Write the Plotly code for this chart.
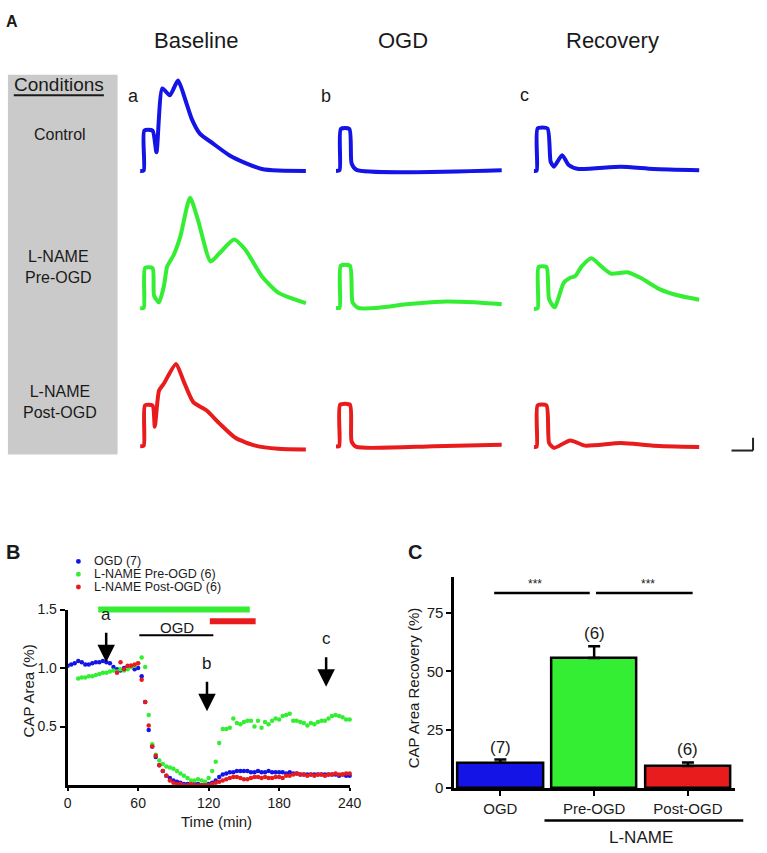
import plotly.graph_objects as go

W, H = 767, 853
FONT = "Liberation Sans, Arial, sans-serif"
INK = "#1a1a1a"
BLUE, GREEN, RED = "#1414e6", "#33ee33", "#e81c1c"

# ---------------- data ----------------
# A: representative CAP recordings (time and amplitude in arbitrary units)
ctrl_base_t = [0, 3.7, 4.3, 12.7, 16.7, 22.7, 30.3, 38.7, 46, 52.7, 61, 74.3, 91, 107.7, 124.3, 141, 169.3]
ctrl_base_v = [0, 0.5, 41, 41, 19, 84, 77, 92, 73, 53, 38, 28, 16, 8, 2, 0.3, 0]
ctrl_ogd_t = [0, 3.7, 5, 13.7, 16, 21, 169.3]
ctrl_ogd_v = [0, 0.7, 42.7, 42.7, 7.7, 1, 0.7]
ctrl_rec_t = [0, 3, 4, 14, 17.3, 20.7, 29, 35.7, 45.7, 89, 122.3, 169]
ctrl_rec_v = [0, 0.3, 43.3, 43.3, 9.3, 4.3, 16, 6, 2, 4.3, 2, 0.7]

pre_base_t = [0, 3.7, 5, 12.7, 14.3, 19.3, 24.3, 27.7, 34.3, 41, 51, 59.3, 72, 81, 96, 107.7, 124.3, 141, 169.3]
pre_base_v = [0, 0.3, 41, 41, 12.7, 6, 22.7, 42.7, 54.3, 72.7, 112.7, 89.3, 47.7, 56, 70, 59.3, 32.7, 16, 5.3]
pre_ogd_t = [0, 3.7, 5, 14.3, 17, 22.7, 41, 74.3, 107.7, 141, 169.3]
pre_ogd_v = [0.3, 0.5, 43.3, 43.3, 6, 0.3, 0.3, 4.3, 6.7, 6, 4]
pre_rec_t = [0, 4, 5, 13, 15.7, 21.3, 30.7, 37.3, 42.3, 49, 59, 69, 79, 95.7, 109, 129, 149, 169]
pre_rec_v = [-0.7, 0, 42, 42, 9.3, 1, 26, 31, 32.7, 42.7, 51, 42.7, 35.3, 36.7, 31, 19.3, 12.7, 8.7]

post_base_t = [0, 3.7, 5, 12.7, 15, 19.3, 24.3, 36.7, 44.3, 54.3, 67.7, 81, 97.7, 117.7, 141, 169.3]
post_base_v = [1.3, 2, 43, 43, 21.3, 58, 65.3, 85.3, 68, 46.3, 38, 24.7, 9.7, 2, -1.3, -2]
post_ogd_t = [0, 3.3, 4.3, 14.3, 16, 21, 100, 169.3]
post_ogd_v = [1.3, 1.5, 43.7, 43.7, 6.3, 0.7, 1.5, 3]
post_rec_t = [0, 3, 4, 13, 15.7, 20.7, 37.3, 52.3, 89, 122.3, 169]
post_rec_v = [0.7, 1, 43, 43, 4.7, -0.3, 7.3, 2, 4.7, 2, 0.7]

# B: CAP area time course (min, fraction of baseline)
ogd_time = list(range(0, 241, 3))
ogd_area = [1.02, 1.03, 1.04, 1.06, 1.05, 1.03, 1.03, 1.04, 1.05, 1.05, 1.06, 1.05, 1.04, 1.01,
            0.99, 0.98, 1.00, 1.01, 1.02, 0.99, 1.00, 0.93, 0.71, 0.47, 0.33, 0.24, 0.17, 0.12,
            0.08, 0.06, 0.04, 0.03, 0.02, 0.01, 0.01, 0.00, 0.01, 0.01, 0.00, 0.01, 0.01, 0.02,
            0.04, 0.07, 0.09, 0.10, 0.11, 0.11, 0.12, 0.12, 0.12, 0.12, 0.11, 0.11, 0.12, 0.11,
            0.11, 0.12, 0.11, 0.11, 0.11, 0.11, 0.10, 0.11, 0.10, 0.10, 0.09, 0.09, 0.09, 0.09,
            0.09, 0.09, 0.09, 0.09, 0.09, 0.09, 0.09, 0.08, 0.09, 0.08, 0.08]
pre_time = list(range(9, 241, 3))
pre_area = [0.91, 0.92, 0.92, 0.93, 0.93, 0.94, 0.95, 0.96, 0.96, 0.97, 0.98, 0.97, 0.99, 0.98,
            0.99, 1.01, 1.02, 1.04, 1.09, 1.01, 0.60, 0.35, 0.26, 0.21, 0.18, 0.16, 0.15, 0.14,
            0.12, 0.10, 0.08, 0.06, 0.04, 0.04, 0.05, 0.04, 0.03, 0.06, 0.12, 0.20, 0.36, 0.48,
            0.48, 0.49, 0.57, 0.53, 0.52, 0.54, 0.55, 0.55, 0.50, 0.55, 0.49, 0.54, 0.52, 0.55,
            0.57, 0.56, 0.59, 0.60, 0.61, 0.55, 0.55, 0.54, 0.53, 0.51, 0.53, 0.52, 0.54, 0.55,
            0.55, 0.57, 0.59, 0.60, 0.59, 0.58, 0.56, 0.56]
post_time = list(range(42, 241, 3))
post_area = [0.96, 1.05, 0.99, 1.02, 1.02, 1.03, 1.04, 0.90, 0.71, 0.51, 0.33, 0.25, 0.17, 0.12,
             0.08, 0.04, 0.02, 0.01, 0.01, 0.00, 0.00, 0.01, 0.00, 0.00, 0.00, 0.00, 0.00, 0.01,
             0.02, 0.03, 0.04, 0.05, 0.06, 0.07, 0.07, 0.06, 0.05, 0.05, 0.06, 0.07, 0.07, 0.06,
             0.07, 0.06, 0.06, 0.07, 0.07, 0.06, 0.08, 0.08, 0.09, 0.10, 0.09, 0.09, 0.08, 0.09,
             0.08, 0.09, 0.09, 0.08, 0.09, 0.09, 0.10, 0.09, 0.09, 0.10, 0.10]
legend_names = ["OGD (7)", "L-NAME Pre-OGD (6)", "L-NAME Post-OGD (6)"]
lname_pre_period = [26, 155]
lname_post_period = [121, 160]
ogd_period = [61, 124]
arrow_labels = ["a", "b", "c"]
arrow_times = [32.8, 118.6, 220]
arrow_tips = [1.05, 0.63, 0.84]

# C: recovery summary
groups = ["OGD", "Pre-OGD", "Post-OGD"]
recovery = [10.8, 55.7, 9.5]
recovery_sem = [1.4, 5.0, 1.5]
n_slices = [7, 6, 6]

fig = go.Figure()


def px_x(x):
    return x / W


def px_y(y):
    return 1 - y / H


def note(text, x, y, size, **kw):
    kw.setdefault("xanchor", "center")
    kw.setdefault("yanchor", "middle")
    fig.add_annotation(text=text, x=px_x(x), y=px_y(y), xref="paper", yref="paper",
                       showarrow=False, font=dict(size=size, color=INK, family=FONT), **kw)


def line(x0, y0, x1, y1, width=2, color=INK):
    fig.add_shape(type="line", xref="paper", yref="paper", x0=px_x(x0), x1=px_x(x1),
                  y0=px_y(y0), y1=px_y(y1), line=dict(color=color, width=width))


# ---------------- panel A ----------------
rows = [
    (BLUE, [(ctrl_base_t, ctrl_base_v), (ctrl_ogd_t, ctrl_ogd_v), (ctrl_rec_t, ctrl_rec_v)]),
    (GREEN, [(pre_base_t, pre_base_v), (pre_ogd_t, pre_ogd_v), (pre_rec_t, pre_rec_v)]),
    (RED, [(post_base_t, post_base_v), (post_ogd_t, post_ogd_v), (post_rec_t, post_rec_v)]),
]
col_px = [(139, 309), (339, 509), (541, 711)]
baselines = [166, 306, 448]

k = 0
for r, (color, traces) in enumerate(rows):
    for c, (t, v) in enumerate(traces):
        k += 1
        ax = "" if k == 1 else str(k)
        fig.add_trace(go.Scatter(x=t, y=v, mode="lines", xaxis="x" + ax, yaxis="y" + ax,
                                 line=dict(color=color, width=4, shape="spline", smoothing=0.6),
                                 showlegend=False, hoverinfo="skip"))
        b = baselines[r]
        fig.update_layout({
            "xaxis" + ax: dict(domain=[px_x(col_px[c][0]), px_x(col_px[c][1])], range=[0, 170],
                               visible=False, anchor="y" + ax),
            "yaxis" + ax: dict(domain=[px_y(b + 5), px_y(b - 120)], range=[-5, 120],
                               visible=False, anchor="x" + ax),
        })

fig.add_shape(type="rect", xref="paper", yref="paper", x0=px_x(4), x1=px_x(116),
              y0=px_y(455), y1=px_y(68), fillcolor="#cacaca", line_width=0, layer="below")
note("<b>A</b>", 8, 14, 16)
note("Baseline", 196, 33, 22)
note("OGD", 408, 33, 22)
note("Recovery", 621, 33, 22)
note("Conditions", 56, 78, 19)
line(10, 89, 102, 89, 2)
note("Control", 57, 129, 16)
note("L-NAME<br>Pre-OGD", 56, 264, 16)
note("L-NAME<br>Post-OGD", 57, 402, 16)
note("a", 132, 90, 18)
note("b", 329, 90, 18)
note("c", 532, 89, 18)
line(743, 451, 765, 451, 2, "#222")
line(765, 438, 765, 451, 2, "#222")

# ---------------- panel B ----------------
for t, v, color in [(ogd_time, ogd_area, BLUE), (pre_time, pre_area, GREEN), (post_time, post_area, RED)]:
    fig.add_trace(go.Scatter(x=t, y=v, mode="markers", xaxis="x10", yaxis="y10",
                             marker=dict(color=color, size=4.5), showlegend=False, cliponaxis=False))

axis_common = dict(showline=True, linewidth=3, linecolor="black", ticks="outside", ticklen=5,
                   tickwidth=2, tickcolor="black", showgrid=False, zeroline=False,
                   tickfont=dict(size=15, color=INK, family=FONT))
fig.update_layout(
    xaxis10=dict(domain=[px_x(65), px_x(353)], range=[0, 240], anchor="y10",
                 tickvals=[0, 60, 120, 180, 240], **axis_common),
    yaxis10=dict(domain=[px_y(792), px_y(613)], range=[0, 1.5], anchor="x10",
                 tickvals=[0.5, 1.0, 1.5], ticktext=["0.5", "1.0", "1.5"], **axis_common),
)
fig.update_xaxes(tickfont_size=14, ticklen=3, selector=dict(anchor="y10"))
fig.update_yaxes(tickfont_size=14, selector=dict(anchor="x10"))

for name, color, y in zip(legend_names, [BLUE, GREEN, RED], [564, 577, 590]):
    fig.add_shape(type="circle", xref="paper", yref="paper", x0=px_x(73.5), x1=px_x(78.5),
                  y0=px_y(y + 2.5), y1=px_y(y - 2.5), fillcolor=color, line_width=0)
    note(name, 90, y, 12.5, xanchor="left")

# drug / OGD application bars (x in minutes, y in plot units)
for (x0, x1), y, color, width in [(lname_pre_period, 1.5, GREEN, 6), (lname_post_period, 1.4, RED, 6),
                                  (ogd_period, 1.28, "black", 2)]:
    fig.add_shape(type="line", xref="x10", yref="paper", x0=x0, x1=x1,
                  y0=px_y(792 - y / 1.5 * 179), y1=px_y(792 - y / 1.5 * 179),
                  line=dict(color=color, width=width))
fig.add_annotation(text="OGD", x=93, y=1.345, xref="x10", yref="y10", showarrow=False,
                   xanchor="center", yanchor="middle",
                   font=dict(size=15, color=INK, family=FONT))

for lab, t, tip in zip(arrow_labels, arrow_times, arrow_tips):
    fig.add_annotation(text="", x=t, y=tip, xref="x10", yref="y10", ax=0, ay=-31,
                       showarrow=True, arrowhead=2, arrowsize=1.4, arrowwidth=2.5, arrowcolor="black")
    fig.add_annotation(text=lab, x=t, y=tip, xref="x10", yref="y10", showarrow=False,
                       xanchor="center", yanchor="middle",
                       yshift=48, font=dict(size=17, color=INK, family=FONT))

note("<b>B</b>", 9, 554, 20)
note("CAP Area (%)", 25, 696, 15, textangle=-90)
note("Time (min)", 217, 829, 15)

# ---------------- panel C ----------------
fig.add_trace(go.Bar(x=groups, y=recovery, xaxis="x11", yaxis="y11", width=0.91,
                     marker=dict(color=[BLUE, GREEN, RED], line=dict(color="black", width=2.5)),
                     error_y=dict(type="data", symmetric=False, array=recovery_sem,
                                  arrayminus=[0] * len(groups), color="black", thickness=2.5, width=6),
                     showlegend=False))
fig.update_layout(
    xaxis11=dict(domain=[px_x(460), px_x(746.7)], range=[-0.49, 2.503], anchor="y11",
                 type="category", **axis_common),
    yaxis11=dict(domain=[px_y(795), px_y(580)], range=[0, 90.3], anchor="x11",
                 tickvals=[0, 25, 50, 75], **axis_common),
    bargap=0,
)
for g, val, err, n in zip(groups, recovery, recovery_sem, n_slices):
    fig.add_annotation(text="(%d)" % n, x=g, y=val + err, xref="x11", yref="y11", showarrow=False,
                       xanchor="center", yanchor="bottom", yshift=1,
                       font=dict(size=17, color=INK, family=FONT))

fig.add_shape(type="line", xref="x11", yref="y11", x0=-0.066, x1=0.953, y0=83.5, y1=83.5,
              line=dict(color="black", width=2.5))
fig.add_shape(type="line", xref="x11", yref="y11", x0=1.02, x1=2.05, y0=83.5, y1=83.5,
              line=dict(color="black", width=2.5))
for sx in [0.373, 1.57]:
    fig.add_annotation(text="***", x=sx, y=87.4, xref="x11", yref="y11", showarrow=False,
                       xanchor="center", yanchor="middle",
                       font=dict(size=12, color=INK, family=FONT))

note("<b>C</b>", 420, 554, 20)
note("CAP Area Recovery (%)", 418, 693, 15, textangle=-90)
line(552, 828, 755, 828, 2.5, "black")
note("L-NAME", 651, 845, 17)

fig.update_layout(width=W, height=H, margin=dict(l=0, r=0, t=0, b=0), autosize=False,
                  paper_bgcolor="white", plot_bgcolor="white",
                  font=dict(family=FONT, color=INK))

fig.write_html("out.html", config={"displayModeBar": False},
               post_script="document.body.style.margin='0px';document.body.style.overflow='hidden';")
